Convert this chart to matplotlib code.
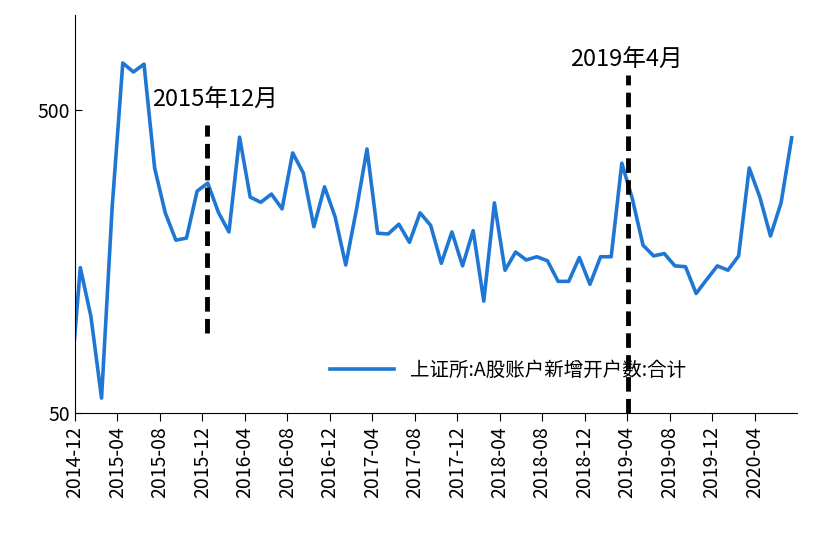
import numpy as np
import matplotlib
matplotlib.use("Agg")
import matplotlib.pyplot as plt
from matplotlib.ticker import FixedLocator, NullLocator

plt.rcParams["font.family"] = ["Noto Sans CJK SC", "Noto Sans CJK JP", "Noto Sans CJK TC",
                               "Noto Sans CJK KR", "DejaVu Sans"]

months = [f"{y}-{m:02d}" for y in range(2014, 2021) for m in range(1, 13)]
months = months[months.index("2014-11"):months.index("2020-07") + 1]
values = [56, 151, 104, 56, 239, 715, 668, 709, 322, 229, 186, 189, 270, 287, 230, 198,
          407, 258, 248, 264, 236, 361, 310, 206, 279, 222, 154, 234, 372, 196, 195, 210,
          183, 229, 208, 156, 198, 153, 200, 117, 247, 148, 170, 160, 164, 159, 136, 136,
          163, 133, 164, 164, 334, 254, 179, 165, 168, 153, 152, 124, 138, 153, 148, 165,
          322, 258, 192, 247, 405]
tick_labels = months[1::4]
legend_label = "上证所:A股账户新增开户数:合计"
ann1, ann2 = "2015年12月", "2019年4月"

fig = plt.figure(figsize=(8.26, 5.44), dpi=100)
ax = fig.add_axes([75/826, 1-413/544, 722/826, 398/544])
x = np.arange(len(values)) - 0.5
ax.plot(x, values, color="#1f77d4", lw=2.6, label=legend_label)
ax.set_yscale("log")
ax.set_ylim(50, 1030)
ax.set_xlim(0, 68)
ax.yaxis.set_major_locator(FixedLocator([50, 500]))
ax.yaxis.set_minor_locator(NullLocator())
ax.set_yticklabels(["50", "500"], fontsize=14)
ax.set_xticks(np.arange(0, 65, 4))
ax.set_xticklabels(tick_labels, rotation=90, fontsize=14)
ax.tick_params(axis="x", direction="out", length=6)
ax.tick_params(axis="y", direction="in", length=5)
for s in ["top", "right"]:
    ax.spines[s].set_visible(False)

ax.plot([12.4, 12.4], [92, 446], ls=(0, (3, 1.5)), color="black", lw=3.5)
ax.plot([52.1, 52.1], [50, 652], ls=(0, (3, 1.5)), color="black", lw=3.5, clip_on=False)
ax.text(7.3, 539, ann1, fontsize=17, va="center", ha="left")
ax.text(51.9, 730, ann2, fontsize=17, va="center", ha="center")
ax.legend(loc="center", bbox_to_anchor=(0.6, 0.107), frameon=False, fontsize=14,
          handlelength=3.3)
fig.savefig("out.png", dpi=100)
